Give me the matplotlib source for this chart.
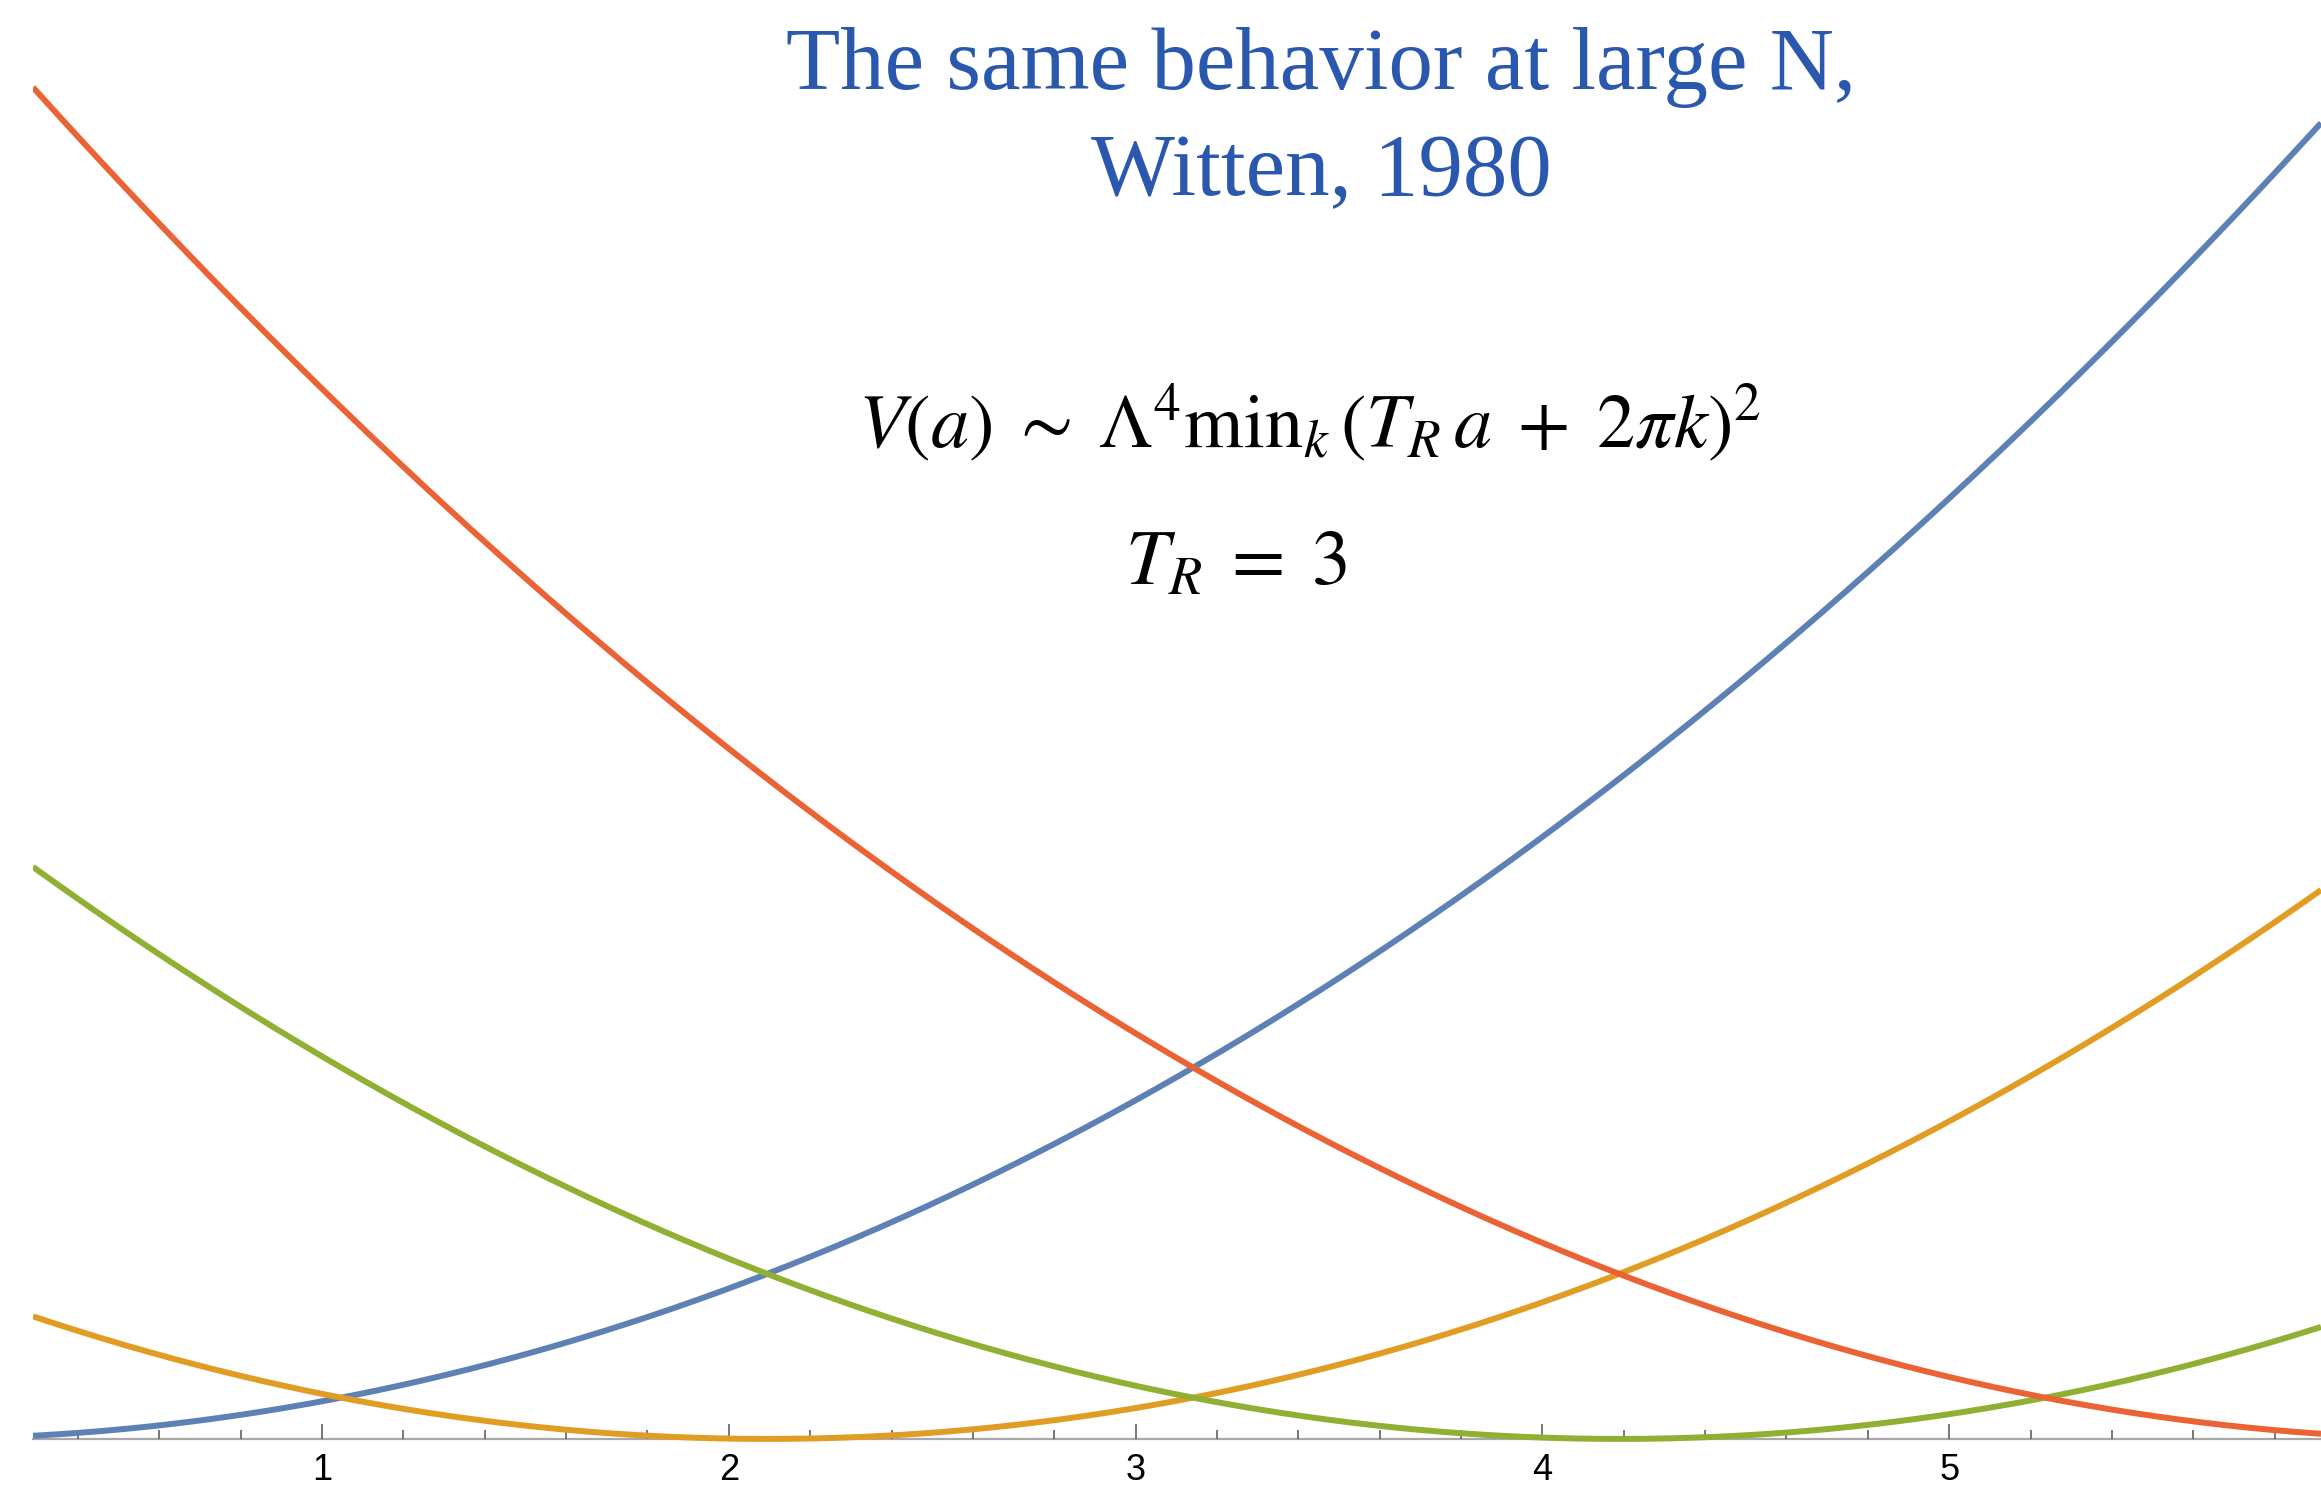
import numpy as np
import matplotlib
matplotlib.use("Agg")
import matplotlib.pyplot as plt
from matplotlib.ticker import MultipleLocator

# V(a) ~ (T_R a + 2 pi k)^2, one branch per k
T_R = 3
k_values = [0, -1, -2, -3]
colors = ["#5E81B5", "#E19C24", "#8FB032", "#EB6235"]
a_min, a_max = 0.2896, 5.914
major_ticks = [1, 2, 3, 4, 5]

a = np.linspace(a_min, a_max, 800)

fig = plt.figure(figsize=(23.21, 14.87), dpi=100)
ax = fig.add_axes([33 / 2321, 0, 1 - 33 / 2321, 1])

for k, c in zip(k_values, colors):
    ax.plot(a, (T_R * a + 2 * np.pi * k) ** 2, color=c, lw=4.3,
            solid_capstyle="butt")

ax.set_xlim(a_min, a_max)
ax.set_ylim(-11.5, 344.2)

for s in ["top", "right", "left"]:
    ax.spines[s].set_visible(False)
ax.spines["bottom"].set_position(("data", 0))
ax.spines["bottom"].set_color("#A8A8A8")
ax.spines["bottom"].set_linewidth(1.6)
ax.spines["bottom"].set_zorder(0)

ax.set_yticks([])
ax.xaxis.set_major_locator(MultipleLocator(1))
ax.xaxis.set_minor_locator(MultipleLocator(0.2))
ax.set_xticks(major_ticks)
ax.set_xticklabels([str(t) for t in major_ticks], family="Liberation Sans",
                   fontsize=26)
ax.tick_params(axis="x", which="major", direction="in", length=11, width=1.1,
               color="#555555", pad=10)
ax.tick_params(axis="x", which="minor", direction="in", length=6.5, width=1.1,
               color="#555555")

title_kw = dict(ha="center", va="baseline", color="#2A58AE",
                family="Liberation Serif", fontsize=64)
fig.text(0.5692, 0.9401, "The same behavior at large N,", **title_kw)
fig.text(0.5692, 0.8689, "Witten, 1980", **title_kw)

plt.rcParams["mathtext.fontset"] = "stix"
fig.text(0.5644, 0.6994,
         r"$V(a)\;\sim\;\Lambda^4\mathrm{min}_k\,\left(T_R\,a\;+\;2\pi k\right)^2$",
         ha="center", va="baseline", fontsize=55, color="black")
fig.text(0.5325, 0.6066, r"$T_R\;=\;3$", ha="center", va="baseline",
         fontsize=56, color="black")

fig.savefig("out.png", dpi=100)
